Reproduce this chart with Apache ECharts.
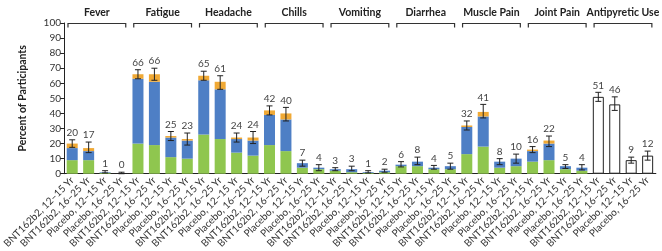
<!DOCTYPE html>
<html>
<head>
<meta charset="utf-8">
<script src="https://cdn.jsdelivr.net/npm/echarts@6/dist/echarts.min.js"></script>
<style>
  html, body { margin: 0; padding: 0; background: #fff; }
  #chart { width: 662px; height: 251px; }
</style>
</head>
<body>
<div id="chart"></div>
<script>
// ---------------- data ----------------
const symptoms = ['Fever', 'Fatigue', 'Headache', 'Chills', 'Vomiting', 'Diarrhea', 'Muscle Pain', 'Joint Pain', 'Antipyretic Use'];
const cohorts = ['BNT162b2, 12–15 Yr', 'BNT162b2, 16–25 Yr', 'Placebo, 12–15 Yr', 'Placebo, 16–25 Yr'];

// mild / moderate / severe for the 8 symptom groups (4 bars each)
const mild     = [9, 9, 0.6, 0,  20, 19, 11, 10,  26, 23, 14, 12,  19, 15, 4, 3,  2, 1, 0.5, 1,  5, 5, 3, 3,  13, 18, 4, 5,  8, 9, 3, 2];
const moderate = [8, 6, 0.4, 0,  43, 42, 13, 12,  36, 33, 9, 10,   20, 21, 3, 1,  1, 2, 0.5, 1,  1, 3, 1, 2,  18, 20, 4, 5,  7, 11, 2, 2];
const severe   = [3, 2, 0, 0,    3, 5, 1, 1,      3, 5, 1, 2,      3, 4, 0, 0,    0, 0, 0, 0,    0, 0, 0, 0,  1, 3, 0, 0,    1, 2, 0, 0];
// antipyretic use (no severity split)
const antipyretic = [51, 46, 9, 12];

// totals shown above bars and 95% CI
const totals = [20, 17, 1, 0,  66, 66, 25, 23,  65, 61, 24, 24,  42, 40, 7, 4,  3, 3, 1, 2,  6, 8, 4, 5,  32, 41, 8, 10,  16, 22, 5, 4,  51, 46, 9, 12];
const ciLow  = [17.5, 14, 0.5, 0,  63, 62, 22, 19,  62, 56, 21, 20,  39, 35, 5, 2,  2, 2, 0.5, 1,  4.5, 6, 3, 3,  29, 37, 6, 7,  14, 18, 3.5, 2.5,  48, 42, 7, 9];
const ciHigh = [22.5, 21, 2, 1,    69, 70, 28, 27,  68, 65, 27, 28,  45, 44, 9, 6,  4, 5, 2, 3,    8, 11, 5.5, 7,  35, 46, 10, 13,  18, 25, 6, 6,  54, 51, 11, 15];

const yTicks = [0, 10, 20, 30, 40, 50, 60, 70, 80, 90, 100];

// ---------------- build ----------------
const FONT = 'Lato';
const nSym = mild.length;
const idx = totals.map((_, i) => String(i));
const pad = (arr) => arr.concat(antipyretic.map(() => '-'));
const antiData = mild.map(() => '-').concat(antipyretic);

const chart = echarts.init(document.getElementById('chart'));

chart.setOption({
    animation: false,
    textStyle: { fontFamily: FONT },
    grid: { left: 62, right: 2, top: 23, bottom: 75 },
    xAxis: [
        {
            type: 'category',
            data: idx,
            axisLine: { lineStyle: { color: '#222', width: 1 } },
            axisTick: { alignWithLabel: true, length: 3, lineStyle: { color: '#222' } },
            axisLabel: {
                interval: 0, rotate: 45, margin: 5,
                fontSize: 10, color: '#333', fontFamily: FONT,
                formatter: (v, i) => cohorts[i % 4]
            }
        },
        {
            type: 'category',
            data: symptoms,
            position: 'top',
            axisLine: { show: false },
            axisTick: { show: false },
            axisLabel: { interval: 0, margin: 5, fontSize: 10.5, fontWeight: 'bold', color: '#222', fontFamily: FONT }
        }
    ],
    yAxis: {
        type: 'value',
        min: 0, max: 100, interval: 10,
        name: 'Percent of Participants',
        nameLocation: 'middle',
        nameGap: 36,
        nameTextStyle: { fontSize: 10.5, fontWeight: 'bold', color: '#222', fontFamily: FONT },
        axisLine: { show: true, lineStyle: { color: '#222' } },
        axisTick: { show: true, length: 4, lineStyle: { color: '#222' } },
        axisLabel: { fontSize: 10, color: '#333', margin: 3, fontFamily: FONT,
            formatter: v => yTicks.indexOf(v) >= 0 ? String(v) : '' },
        splitLine: { show: false }
    },
    series: [
        { name: 'Mild', type: 'bar', stack: 'sev', barWidth: 11, data: pad(mild), itemStyle: { color: '#8fc64f' } },
        { name: 'Moderate', type: 'bar', stack: 'sev', barWidth: 11, data: pad(moderate), itemStyle: { color: '#4e7fc5' } },
        { name: 'Severe', type: 'bar', stack: 'sev', barWidth: 11, data: pad(severe), itemStyle: { color: '#f0a935' } },
        { name: 'Antipyretic', type: 'bar', stack: 'sev', barWidth: 11, data: antiData,
          itemStyle: { color: '#fff', borderColor: '#222', borderWidth: 1 } },
        {
            // error bars + total labels
            type: 'custom',
            z: 5,
            data: totals.map((t, i) => [i, ciLow[i], ciHigh[i], t]),
            renderItem: function(params, api) {
                const lo = api.coord([api.value(0), api.value(1)]);
                const hi = api.coord([api.value(0), api.value(2)]);
                const x = lo[0], c = 3;
                const st = { stroke: '#222', lineWidth: 1 };
                return {
                    type: 'group',
                    children: [
                        { type: 'line', shape: { x1: x, y1: lo[1], x2: x, y2: hi[1] }, style: st },
                        { type: 'line', shape: { x1: x - c, y1: lo[1], x2: x + c, y2: lo[1] }, style: st },
                        { type: 'line', shape: { x1: x - c, y1: hi[1], x2: x + c, y2: hi[1] }, style: st },
                        { type: 'text', x: x, y: hi[1] - 2,
                          style: { text: String(api.value(3)), align: 'center', verticalAlign: 'bottom',
                                   fill: '#444', fontSize: 10, fontFamily: FONT } }
                    ]
                };
            }
        },
        {
            // group brackets
            type: 'custom',
            xAxisIndex: 1,
            clip: false,
            data: symptoms.map((s, i) => [i, 100]),
            renderItem: function(params, api) {
                const p = api.coord([api.value(0), api.value(1)]);
                const w = api.size([1, 0])[0];
                const l = p[0] - w / 2 + 4, r = p[0] + w / 2 - 4, y = p[1] + 0.5;
                return {
                    type: 'polyline',
                    shape: { points: [[l, y + 4], [l, y], [r, y], [r, y + 4]] },
                    style: { stroke: '#333', fill: null, lineWidth: 1.2 }
                };
            }
        }
    ]
});
</script>
</body>
</html>
